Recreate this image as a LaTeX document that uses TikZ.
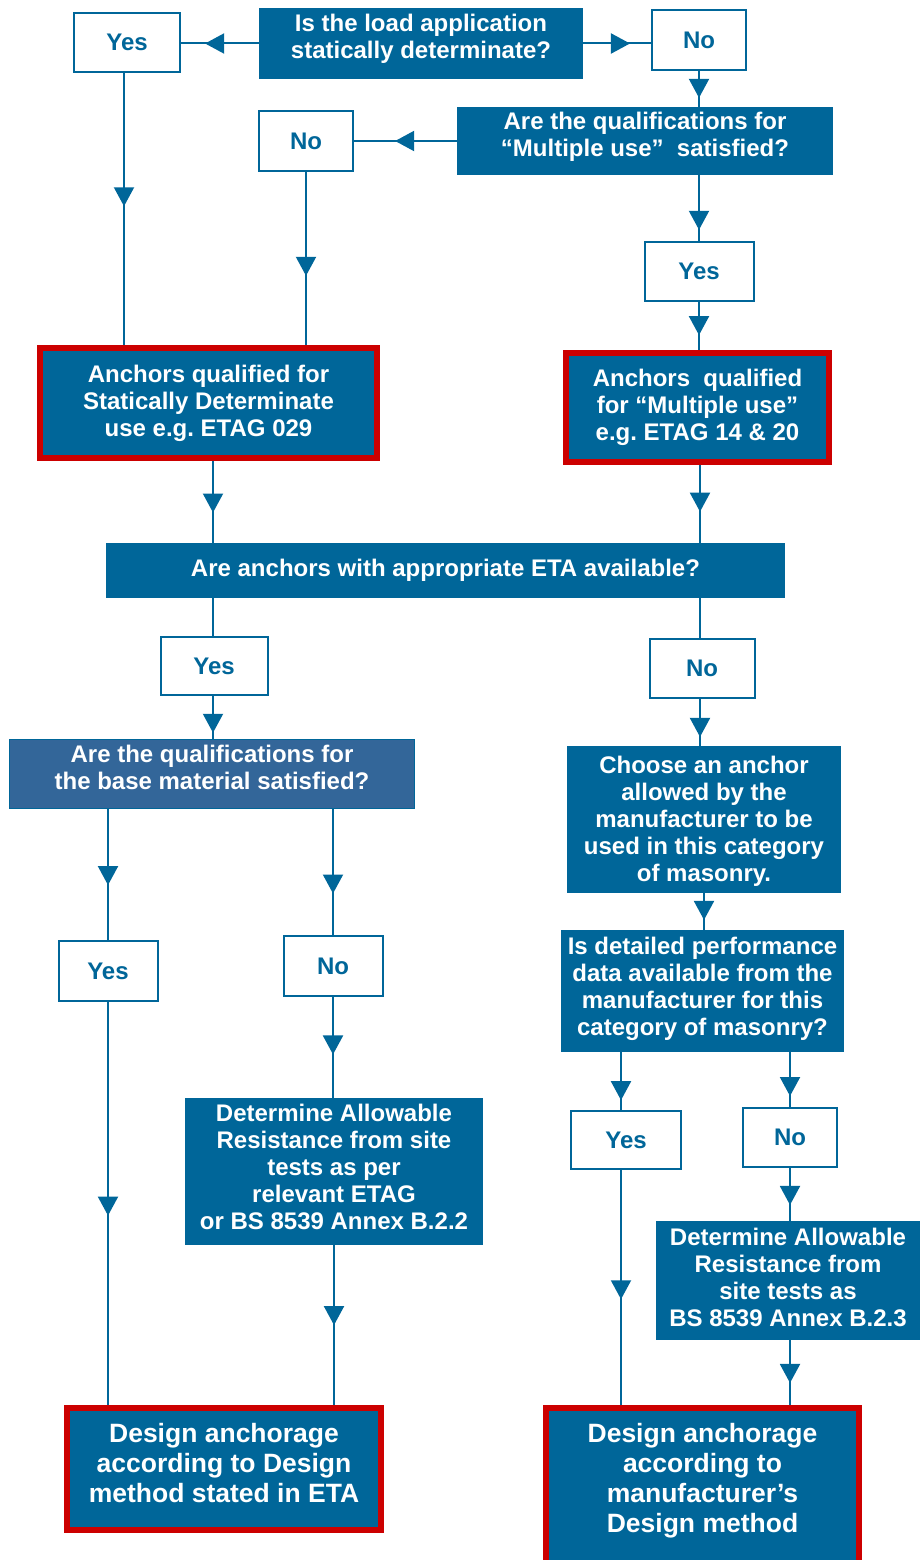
\documentclass[tikz,border=0pt]{standalone}
\usepackage{fontspec}
\setmainfont{Liberation Sans}
\frenchspacing
\usepackage{tikz}
\usetikzlibrary{arrows.meta,decorations.markings}
\definecolor{boxblue}{HTML}{006699}
\definecolor{baseblue}{HTML}{336699}
\definecolor{boxred}{HTML}{CC0000}
\newcommand{\flowfont}{\fontsize{24}{27}\selectfont\bfseries}
\newcommand{\bigflowfont}{\fontsize{26.5}{30}\selectfont\bfseries}
\tikzstyle{question}=[rectangle, fill=boxblue, text=white, align=center, inner sep=0pt, font=\flowfont]
\tikzstyle{answer}=[rectangle, draw=boxblue, fill=white, text=boxblue, line width=2pt, inner sep=0pt, font=\flowfont]
\tikzstyle{result}=[question, draw=boxred, line width=6pt]
\tikzstyle{flow}=[boxblue, line width=2pt]
\tikzset{marr/.style={postaction={decorate}, decoration={markings, mark=at position #1 with {\arrow{Triangle[width=20pt, length=19pt]}}}}}

\begin{document}
\begin{tikzpicture}[x=1pt, y=-1pt]
                    \useasboundingbox (0,0) rectangle (920,1560);
                    \clip (0,0) rectangle (920,1560);
                    \node[question, text depth=15, minimum width=324, minimum height=71] (q1) at (421, 43.5) {Is the load application\\statically determinate?};
                    \node[answer, minimum width=106, minimum height=59] (yes1) at (127, 42.5) {Yes};
                    \node[answer, minimum width=94, minimum height=60] (no1) at (699, 40) {No};
                    \node[question, text depth=13, minimum width=376, minimum height=68] (q2) at (645, 141) {Are the qualifications for\\“Multiple use”\ \ satisfied?};
                    \node[answer, minimum width=94, minimum height=60] (no2) at (306, 141) {No};
                    \node[answer, minimum width=109, minimum height=59] (yes2) at (699, 271.5) {Yes};
                    \node[result, minimum width=337, minimum height=110] (sd) at (208.5, 403) {Anchors qualified for\\Statically Determinate\\use e.g. ETAG 029};
                    \node[result, minimum width=263, minimum height=109] (mu) at (697.5, 407.5) {Anchors\ \ qualified\\for “Multiple use”\\e.g. ETAG 14 \& 20};
                    \node[question, minimum width=679, minimum height=55] (eta) at (445.5, 570.5) {Are anchors with appropriate ETA available?};
                    \node[answer, minimum width=107, minimum height=58] (yes3) at (214, 666) {Yes};
                    \node[answer, minimum width=105, minimum height=59] (no3) at (702, 668.5) {No};
                    \node[question, draw=boxblue, fill=baseblue, line width=1.5pt, text depth=14, minimum width=405, minimum height=69] (base) at (212, 774) {Are the qualifications for\\the base material satisfied?};
                    \node[question, text depth=1, minimum width=274, minimum height=147] (choose) at (704, 819.5) {Choose an anchor\\allowed by the\\manufacturer to be\\used in this category\\of masonry.};
                    \node[question, text depth=9, minimum width=283, minimum height=122] (detail) at (702.5, 991) {Is detailed performance\\data available from the\\manufacturer for this\\category of masonry?};
                    \node[answer, minimum width=99, minimum height=60] (yes4) at (108, 971) {Yes};
                    \node[answer, minimum width=99, minimum height=60] (no4) at (333, 966) {No};
                    \node[question, text depth=10, minimum width=298, minimum height=147] (det1) at (334, 1171.5) {Determine Allowable\\Resistance from site\\tests as per\\relevant ETAG\\or BS 8539 Annex B.2.2};
                    \node[answer, minimum width=110, minimum height=58] (yes5) at (626, 1140) {Yes};
                    \node[answer, minimum width=94, minimum height=59] (no5) at (790, 1137.5) {No};
                    \node[question, text depth=6, minimum width=264, minimum height=119] (det2) at (788, 1280.5) {Determine Allowable\\Resistance from\\site tests as\\BS 8539 Annex B.2.3};
                    \node[result, font=\bigflowfont, text depth=12, minimum width=314, minimum height=122] (des1) at (224, 1469) {Design anchorage\\according to Design\\method stated in ETA};
                    \node[result, font=\bigflowfont, text depth=30, minimum width=313, minimum height=169] (des2) at (702.5, 1492.5) {Design anchorage\\according to\\manufacturer’s\\Design method};
                    \draw[flow, marr=0.69] (q1.west) -- (q1.west -| yes1.east);
                    \draw[flow, marr=0.69] (q1.east) -- (q1.east -| no1.west);
                    \draw[flow, marr=0.75] (no1.south) -- (no1.south |- q2.north);
                    \draw[flow, marr=0.6]  (q2.west) -- (q2.west -| no2.east);
                    \draw[flow, marr=0.83] (yes2.north |- q2.south) -- (yes2.north);
                    \draw[flow, marr=0.69] (yes2.south) -- (yes2.south |- mu.north);
                    \draw[flow, marr=0.49] ([xshift=-3]yes1.south) -- ([xshift=-3]yes1.south |- sd.north);
                    \draw[flow, marr=0.6]  (no2.south) -- (no2.south |- sd.north);
                    \draw[flow, marr=0.63] ([xshift=-1]yes3.north |- sd.south) -- ([xshift=-1]yes3.north |- eta.north);
                    \draw[flow, marr=0.6]  ([xshift=-2]no3.north |- mu.south) -- ([xshift=-2]no3.north |- eta.north);
                    \draw[flow] ([xshift=-1]yes3.north |- eta.south) -- ([xshift=-1]yes3.north);
                    \draw[flow] ([xshift=-2]no3.north |- eta.south) -- ([xshift=-2]no3.north);
                    \draw[flow, marr=0.86] ([xshift=-1]yes3.south) -- ([xshift=-1]yes3.south |- base.north);
                    \draw[flow, marr=0.81] ([xshift=-2]no3.south) -- ([xshift=-2]no3.south |- choose.north);
                    \draw[flow, marr=0.58] (yes4.north |- base.south) -- (yes4.north);
                    \draw[flow, marr=0.67] (no4.north |- base.south) -- (no4.north);
                    \draw[flow, marr=0.57] (no4.south) -- (no4.south |- det1.north);
                    \draw[flow, marr=0.53] (yes4.south) -- (yes4.south |- des1.north);
                    \draw[flow, marr=0.5]  (det1.south) -- (det1.south |- des1.north);
                    \draw[flow, marr=0.73] (choose.south) -- (choose.south |- detail.north);
                    \draw[flow, marr=0.83] ([xshift=-5]yes5.north |- detail.south) -- ([xshift=-5]yes5.north);
                    \draw[flow, marr=0.8]  (no5.north |- detail.south) -- (no5.north);
                    \draw[flow, marr=0.7]  (no5.south) -- (no5.south |- det2.north);
                    \draw[flow, marr=0.66] (no5.south |- det2.south) -- (no5.south |- des2.north);
                    \draw[flow, marr=0.55] ([xshift=-5]yes5.south) -- ([xshift=-5]yes5.south |- des2.north);
                \end{tikzpicture}
\end{document}
